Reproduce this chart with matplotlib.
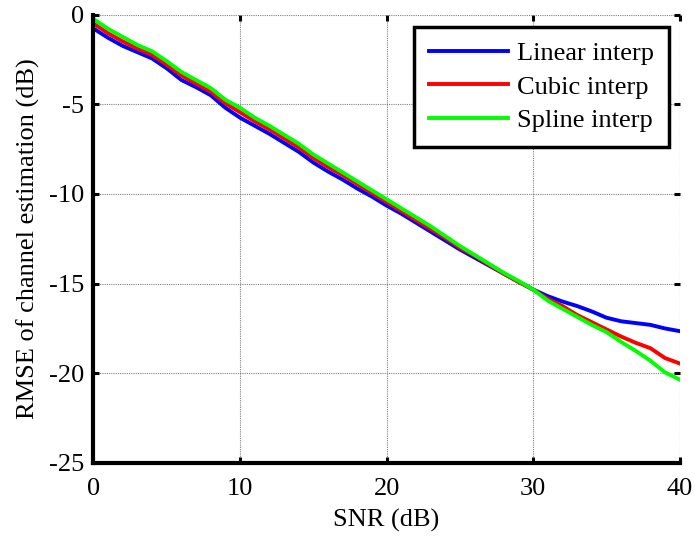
import matplotlib
matplotlib.use("Agg")
import matplotlib.pyplot as plt
import numpy as np

snr = list(range(0, 41))
linear = [-0.78, -1.3, -1.75, -2.1, -2.45, -3.0, -3.65, -4.05, -4.5, -5.2, -5.75,
          -6.2, -6.65, -7.15, -7.65, -8.25, -8.75, -9.2, -9.7, -10.15, -10.65,
          -11.1, -11.6, -12.1, -12.6, -13.1, -13.55, -14.0, -14.45, -14.9, -15.33,
          -15.7, -16.0, -16.25, -16.55, -16.9, -17.1, -17.2, -17.3, -17.5, -17.65]
cubic = [-0.5, -1.05, -1.5, -1.9, -2.25, -2.8, -3.4, -3.85, -4.3, -4.95, -5.45,
         -5.95, -6.4, -6.9, -7.4, -8.0, -8.5, -8.95, -9.45, -9.95, -10.45,
         -10.95, -11.45, -11.95, -12.45, -13.0, -13.45, -13.95, -14.45, -14.9, -15.33,
         -15.85, -16.25, -16.75, -17.15, -17.55, -17.95, -18.3, -18.6, -19.15, -19.45]
spline = [-0.25, -0.8, -1.25, -1.7, -2.05, -2.6, -3.2, -3.65, -4.1, -4.75, -5.2,
          -5.75, -6.2, -6.7, -7.2, -7.8, -8.3, -8.8, -9.3, -9.8, -10.3,
          -10.8, -11.3, -11.8, -12.35, -12.9, -13.4, -13.9, -14.4, -14.85, -15.33,
          -15.95, -16.4, -16.85, -17.3, -17.7, -18.25, -18.75, -19.3, -19.95, -20.35]
labels = ["Linear interp", "Cubic interp", "Spline interp"]
colors = ["#0000ff", "#ff0000", "#00ff00"]
xticks = [0, 10, 20, 30, 40]
yticks = [0, -5, -10, -15, -20, -25]

plt.rcParams['font.family'] = ['Liberation Serif', 'DejaVu Serif']

fig = plt.figure(figsize=(6.95, 5.4), dpi=100)
ax = fig.add_axes([0.1345, 0.1426, 0.8435, 0.8305])

for ys, lab, c in zip([linear, cubic, spline], labels, colors):
    ax.plot(snr, ys, color=c, lw=2.8, label=lab)

ax.set_xlim(0, 40)
ax.set_ylim(-25, 0)
ax.set_xticks(xticks)
ax.set_yticks(yticks)
ax.set_xticklabels([str(t) for t in xticks])
ax.set_yticklabels([str(t) for t in yticks])
ax.grid(True, color='#808080', linestyle=(0, (1, 1)), linewidth=0.8)
for s in ['top', 'right']:
    ax.spines[s].set_visible(False)
for s in ['left', 'bottom']:
    ax.spines[s].set_linewidth(3)
ax.tick_params(direction='in', length=4, width=2.2, labelsize=19, top=True, right=True)
ax.tick_params(axis='x', pad=11)
ax.tick_params(axis='y', pad=7)
ax.set_xlabel("SNR (dB)", fontsize=19, labelpad=6)
ax.set_ylabel("RMSE of channel estimation (dB)", fontsize=19, labelpad=6)

leg = ax.legend(loc='upper right', fontsize=19, frameon=True, fancybox=False,
                edgecolor='black', framealpha=1, borderpad=0.55, handlelength=3.0,
                handletextpad=0.35, labelspacing=0.38, borderaxespad=0,
                bbox_to_anchor=(0.981, 0.972))
leg.get_frame().set_linewidth(2.5)

fig.savefig("out.png", dpi=100)
